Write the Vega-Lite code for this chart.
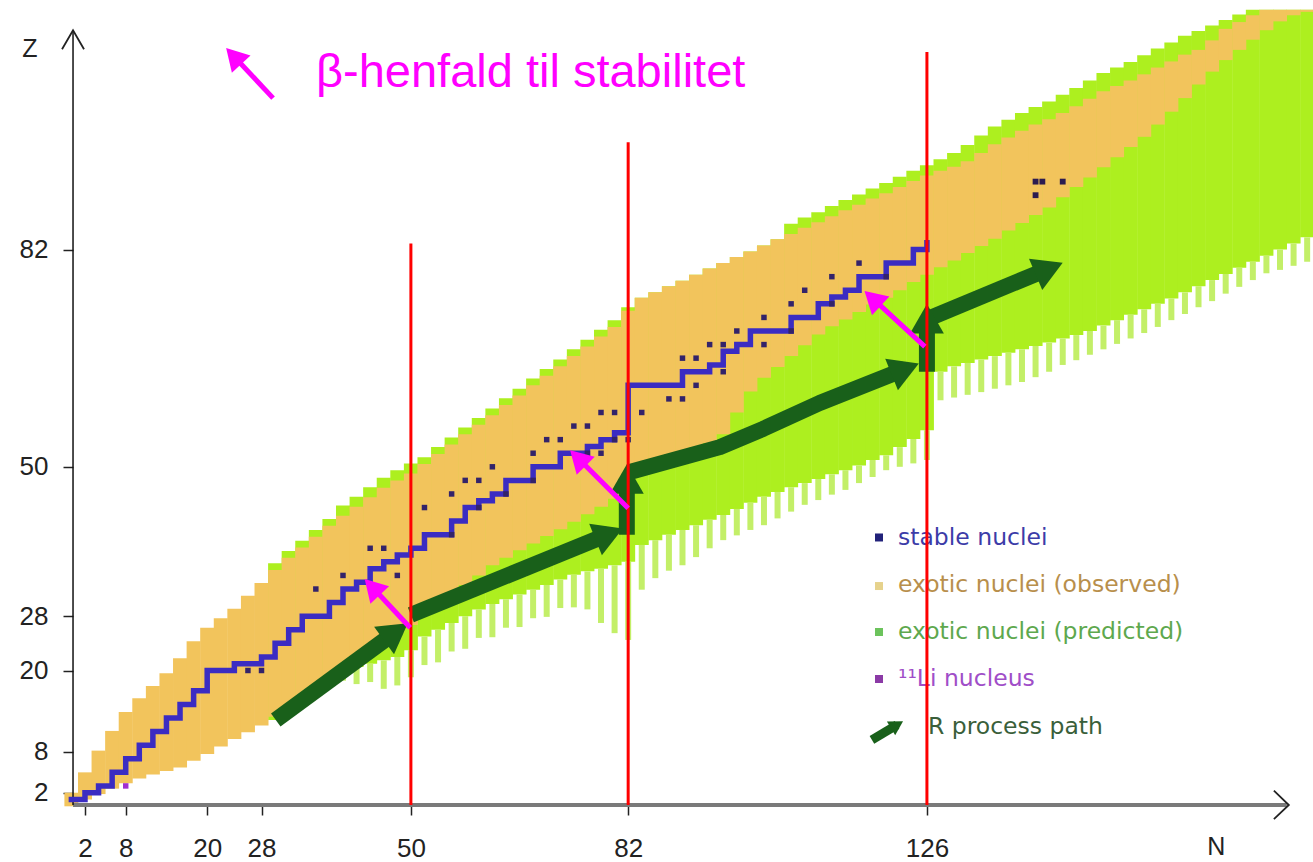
{
"$schema":"https://vega.github.io/schema/vega-lite/v6.json",
"width":1313,"height":862,"padding":0,
"autosize":{"type":"none"},
"background":"white",
"config":{"view":{"stroke":null}},
"resolve":{"scale":{"color":"independent"}},
"datasets":{
"orange":[
{"N":0,"Z":0,"Z2":2},{"N":2,"Z":1.0,"Z2":5.0},{"N":4,"Z":1.8,"Z2":8.2},{"N":6,"Z":2.6,"Z2":11.1},{"N":8,"Z":3.4,"Z2":13.9},{"N":10,"Z":4.1,"Z2":15.9},{"N":12,"Z":4.7,"Z2":17.7},{"N":14,"Z":5.2,"Z2":19.6},{"N":16,"Z":5.7,"Z2":21.8},{"N":18,"Z":6.7,"Z2":24.3},{"N":20,"Z":7.7,"Z2":26.3},{"N":22,"Z":8.8,"Z2":27.7},{"N":24,"Z":9.9,"Z2":29.1},{"N":26,"Z":10.9,"Z2":31.0},{"N":28,"Z":11.9,"Z2":32.9},{"N":30,"Z":13.2,"Z2":34.8},{"N":32,"Z":14.6,"Z2":36.6},{"N":34,"Z":16.1,"Z2":38.1},{"N":36,"Z":17.5,"Z2":39.7},{"N":38,"Z":19.0,"Z2":41.3},{"N":40,"Z":20.5,"Z2":42.8},{"N":42,"Z":21.9,"Z2":44.1},{"N":44,"Z":23.3,"Z2":45.5},{"N":46,"Z":24.7,"Z2":46.9},{"N":48,"Z":25.6,"Z2":48.0},{"N":50,"Z":26.7,"Z2":49.0},
{"N":52,"Z":28.2,"Z2":50.4},{"N":54,"Z":29.6,"Z2":51.9},{"N":56,"Z":31.1,"Z2":53.3},{"N":58,"Z":32.6,"Z2":54.8},{"N":60,"Z":34.0,"Z2":56.2},{"N":62,"Z":35.5,"Z2":57.6},{"N":64,"Z":36.6,"Z2":59.1},{"N":66,"Z":37.7,"Z2":60.5},{"N":68,"Z":38.7,"Z2":62.0},{"N":70,"Z":39.8,"Z2":63.4},{"N":72,"Z":40.8,"Z2":64.8},{"N":74,"Z":41.9,"Z2":66.3},{"N":76,"Z":43.0,"Z2":67.7},{"N":78,"Z":44.1,"Z2":69.2},{"N":80,"Z":45.3,"Z2":70.6},{"N":82,"Z":47.0,"Z2":73.0},
{"N":84,"Z":50.4,"Z2":74.9},{"N":86,"Z":51.0,"Z2":75.7},{"N":88,"Z":51.7,"Z2":76.6},{"N":90,"Z":52.3,"Z2":77.4},{"N":92,"Z":52.9,"Z2":78.3},{"N":94,"Z":53.5,"Z2":79.2},{"N":96,"Z":54.8,"Z2":80.0},{"N":98,"Z":58.0,"Z2":80.9},{"N":100,"Z":61.1,"Z2":81.7},{"N":102,"Z":63.1,"Z2":82.6},{"N":104,"Z":64.7,"Z2":83.5},{"N":106,"Z":66.3,"Z2":84.3},{"N":108,"Z":67.9,"Z2":85.2},{"N":110,"Z":69.5,"Z2":86.0},{"N":112,"Z":70.7,"Z2":86.9},{"N":114,"Z":71.7,"Z2":87.8},{"N":116,"Z":72.8,"Z2":88.6},{"N":118,"Z":73.9,"Z2":89.5},{"N":120,"Z":74.9,"Z2":90.3},{"N":122,"Z":76.0,"Z2":91.2},{"N":124,"Z":77.2,"Z2":92.1},{"N":126,"Z":78.3,"Z2":92.9},
{"N":128,"Z":79.4,"Z2":93.6},{"N":130,"Z":80.4,"Z2":94.2},{"N":132,"Z":81.5,"Z2":95.0},{"N":134,"Z":82.5,"Z2":96.2},{"N":136,"Z":83.6,"Z2":97.5},{"N":138,"Z":84.8,"Z2":98.5},{"N":140,"Z":85.9,"Z2":99.5},{"N":142,"Z":87.1,"Z2":100.4},{"N":144,"Z":88.2,"Z2":101.2},{"N":146,"Z":89.7,"Z2":102.1},{"N":148,"Z":91.2,"Z2":103.1},{"N":150,"Z":92.6,"Z2":104.2},{"N":152,"Z":94.1,"Z2":105.3},{"N":154,"Z":95.6,"Z2":106.1},{"N":156,"Z":97.1,"Z2":106.9},{"N":158,"Z":98.6,"Z2":107.8},{"N":160,"Z":100.4,"Z2":108.8},{"N":162,"Z":102.3,"Z2":109.7},{"N":164,"Z":104.3,"Z2":110.7},{"N":166,"Z":106.3,"Z2":111.4},{"N":168,"Z":108.2,"Z2":112.8},{"N":170,"Z":109.9,"Z2":114.5},{"N":172,"Z":111.4,"Z2":115.5},{"N":174,"Z":112.9,"Z2":116.5},{"N":176,"Z":114.3,"Z2":117.3},{"N":178,"Z":115.6,"Z2":117.3},{"N":180,"Z":116.5,"Z2":117.3},{"N":182,"Z":117.0,"Z2":117.3}
],
"green":[
{"N":30,"Z":12.7,"Z2":35.8},{"N":32,"Z":14.1,"Z2":37.6},{"N":34,"Z":15.6,"Z2":39.1},{"N":36,"Z":17.0,"Z2":40.7},{"N":38,"Z":18.5,"Z2":42.3},{"N":40,"Z":20.0,"Z2":44.3},{"N":42,"Z":20.5,"Z2":45.6},{"N":44,"Z":21.0,"Z2":47.0},{"N":46,"Z":21.5,"Z2":48.4},{"N":48,"Z":22.0,"Z2":49.5},{"N":50,"Z":23.0,"Z2":50.5},
{"N":52,"Z":25.0,"Z2":51.4},{"N":54,"Z":26.0,"Z2":52.9},{"N":56,"Z":27.0,"Z2":54.3},{"N":58,"Z":28.0,"Z2":55.8},{"N":60,"Z":29.0,"Z2":57.2},{"N":62,"Z":29.8,"Z2":58.6},{"N":64,"Z":30.5,"Z2":60.1},{"N":66,"Z":31.2,"Z2":61.5},{"N":68,"Z":31.9,"Z2":63.0},{"N":70,"Z":32.6,"Z2":64.4},{"N":72,"Z":33.4,"Z2":65.8},{"N":74,"Z":34.1,"Z2":67.3},{"N":76,"Z":34.6,"Z2":68.7},{"N":78,"Z":35.0,"Z2":70.2},{"N":80,"Z":35.5,"Z2":71.6},{"N":82,"Z":36.0,"Z2":73.5},
{"N":84,"Z":38.5,"Z2":74.9},{"N":86,"Z":39.2,"Z2":75.7},{"N":88,"Z":40.0,"Z2":76.6},{"N":90,"Z":40.7,"Z2":77.4},{"N":92,"Z":41.4,"Z2":78.3},{"N":94,"Z":42.2,"Z2":79.2},{"N":96,"Z":42.9,"Z2":80.0},{"N":98,"Z":43.8,"Z2":80.9},{"N":100,"Z":44.7,"Z2":81.7},{"N":102,"Z":45.6,"Z2":82.6},{"N":104,"Z":46.3,"Z2":83.5},{"N":106,"Z":47.0,"Z2":85.8},{"N":108,"Z":47.6,"Z2":86.7},{"N":110,"Z":48.2,"Z2":87.5},{"N":112,"Z":48.9,"Z2":88.4},{"N":114,"Z":49.5,"Z2":89.3},{"N":116,"Z":50.2,"Z2":90.1},{"N":118,"Z":51.0,"Z2":91.0},{"N":120,"Z":51.7,"Z2":91.8},{"N":122,"Z":52.9,"Z2":92.7},{"N":124,"Z":54.1,"Z2":93.6},{"N":126,"Z":55.4,"Z2":94.4},
{"N":128,"Z":64.0,"Z2":95.3},{"N":130,"Z":64.8,"Z2":96.2},{"N":132,"Z":65.3,"Z2":97.4},{"N":134,"Z":65.8,"Z2":98.8},{"N":136,"Z":66.3,"Z2":100.1},{"N":138,"Z":66.8,"Z2":101.1},{"N":140,"Z":67.3,"Z2":102.1},{"N":142,"Z":67.8,"Z2":103.0},{"N":144,"Z":68.3,"Z2":103.8},{"N":146,"Z":68.9,"Z2":104.8},{"N":148,"Z":69.4,"Z2":105.8},{"N":150,"Z":70.0,"Z2":106.9},{"N":152,"Z":70.8,"Z2":108.0},{"N":154,"Z":71.6,"Z2":108.8},{"N":156,"Z":72.4,"Z2":109.6},{"N":158,"Z":73.2,"Z2":110.6},{"N":160,"Z":74.0,"Z2":111.6},{"N":162,"Z":74.8,"Z2":112.5},{"N":164,"Z":75.7,"Z2":113.5},{"N":166,"Z":76.6,"Z2":114.2},{"N":168,"Z":77.5,"Z2":115.0},{"N":170,"Z":78.4,"Z2":115.8},{"N":172,"Z":79.3,"Z2":116.6},{"N":174,"Z":80.2,"Z2":117.3},{"N":176,"Z":81.1,"Z2":117.3},{"N":178,"Z":82.0,"Z2":117.3},{"N":180,"Z":82.9,"Z2":117.3},{"N":182,"Z":83.8,"Z2":117.3}
],
"stripes":[
{"N":36,"Z":16.5,"Z2":17.0},{"N":38,"Z":17.5,"Z2":18.5},{"N":40,"Z":18.5,"Z2":20.0},{"N":42,"Z":18.0,"Z2":20.5},{"N":44,"Z":18.3,"Z2":21.0},{"N":46,"Z":17.3,"Z2":21.5},{"N":48,"Z":17.8,"Z2":22.0},{"N":50,"Z":19.0,"Z2":23.0},{"N":52,"Z":20.8,"Z2":25.0},{"N":54,"Z":21.2,"Z2":26.0},{"N":56,"Z":22.8,"Z2":27.0},{"N":58,"Z":23.2,"Z2":28.0},{"N":60,"Z":24.8,"Z2":29.0},{"N":62,"Z":24.9,"Z2":29.8},{"N":64,"Z":26.3,"Z2":30.5},{"N":66,"Z":26.4,"Z2":31.2},{"N":68,"Z":27.7,"Z2":31.9},{"N":70,"Z":27.9,"Z2":32.6},{"N":72,"Z":29.2,"Z2":33.4},{"N":74,"Z":29.3,"Z2":34.1},{"N":76,"Z":29.0,"Z2":34.6},{"N":78,"Z":27.0,"Z2":35.0},{"N":80,"Z":25.5,"Z2":35.5},{"N":82,"Z":24.5,"Z2":36.0},
{"N":84,"Z":31.9,"Z2":38.5},{"N":86,"Z":33.6,"Z2":39.2},{"N":88,"Z":34.7,"Z2":40.0},{"N":90,"Z":35.5,"Z2":40.7},{"N":92,"Z":36.7,"Z2":41.4},{"N":94,"Z":38.0,"Z2":42.2},{"N":96,"Z":39.2,"Z2":42.9},{"N":98,"Z":39.9,"Z2":43.8},{"N":100,"Z":40.7,"Z2":44.7},{"N":102,"Z":41.4,"Z2":45.6},{"N":104,"Z":42.4,"Z2":46.3},{"N":106,"Z":43.4,"Z2":47.0},{"N":108,"Z":44.4,"Z2":47.6},{"N":110,"Z":45.1,"Z2":48.2},{"N":112,"Z":45.9,"Z2":48.9},{"N":114,"Z":46.6,"Z2":49.5},{"N":116,"Z":47.6,"Z2":50.2},{"N":118,"Z":48.5,"Z2":51.0},{"N":120,"Z":49.5,"Z2":51.7},{"N":122,"Z":50.0,"Z2":52.9},{"N":124,"Z":50.5,"Z2":54.1},{"N":126,"Z":51.0,"Z2":55.4},
{"N":128,"Z":59.8,"Z2":64.0},{"N":130,"Z":60.2,"Z2":64.8},{"N":132,"Z":60.6,"Z2":65.3},{"N":134,"Z":61.0,"Z2":65.8},{"N":136,"Z":61.5,"Z2":66.3},{"N":138,"Z":62.0,"Z2":66.8},{"N":140,"Z":62.5,"Z2":67.3},{"N":142,"Z":63.2,"Z2":67.8},{"N":144,"Z":64.0,"Z2":68.3},{"N":146,"Z":65.0,"Z2":68.9},{"N":148,"Z":65.7,"Z2":69.4},{"N":150,"Z":66.5,"Z2":70.0},{"N":152,"Z":67.3,"Z2":70.8},{"N":154,"Z":68.1,"Z2":71.6},{"N":156,"Z":68.9,"Z2":72.4},{"N":158,"Z":69.7,"Z2":73.2},{"N":160,"Z":70.6,"Z2":74.0},{"N":162,"Z":71.6,"Z2":74.8},{"N":164,"Z":72.5,"Z2":75.7},{"N":166,"Z":73.5,"Z2":76.6},{"N":168,"Z":74.4,"Z2":77.5},{"N":170,"Z":75.5,"Z2":78.4},{"N":172,"Z":76.5,"Z2":79.3},{"N":174,"Z":77.5,"Z2":80.2},{"N":176,"Z":78.5,"Z2":81.1},{"N":178,"Z":79.0,"Z2":82.0},{"N":180,"Z":79.6,"Z2":82.9},{"N":182,"Z":80.2,"Z2":83.8}
],
"stable":[
{"o":1,"N":0,"Z":1},{"o":2,"N":2,"Z":2},{"o":3,"N":4,"Z":3},{"o":4,"N":6,"Z":5},{"o":5,"N":8,"Z":7},{"o":6,"N":10,"Z":9},{"o":7,"N":12,"Z":11},{"o":8,"N":14,"Z":13},{"o":9,"N":16,"Z":15},{"o":10,"N":18,"Z":17},{"o":11,"N":20,"Z":18},{"o":12,"N":20,"Z":20},{"o":13,"N":22,"Z":20},{"o":14,"N":24,"Z":21},{"o":15,"N":28,"Z":22},{"o":16,"N":30,"Z":24},{"o":17,"N":32,"Z":26},{"o":18,"N":34,"Z":28},{"o":19,"N":38,"Z":30},{"o":20,"N":40,"Z":32},{"o":21,"N":42,"Z":33},{"o":22,"N":44,"Z":35},{"o":23,"N":46,"Z":36},{"o":24,"N":48,"Z":37},{"o":25,"N":50,"Z":38},{"o":26,"N":52,"Z":40},{"o":27,"N":56,"Z":42},{"o":28,"N":58,"Z":44},{"o":29,"N":60,"Z":45},{"o":30,"N":62,"Z":46},{"o":31,"N":64,"Z":48},{"o":32,"N":68,"Z":50},{"o":33,"N":72,"Z":52},{"o":34,"N":76,"Z":53},{"o":35,"N":78,"Z":54},{"o":36,"N":80,"Z":55},{"o":37,"N":82,"Z":56},{"o":38,"N":82,"Z":62},{"o":39,"N":88,"Z":62},{"o":40,"N":90,"Z":64},{"o":41,"N":94,"Z":65},{"o":42,"N":96,"Z":67},{"o":43,"N":98,"Z":68},{"o":44,"N":100,"Z":70},{"o":45,"N":104,"Z":70},{"o":46,"N":106,"Z":72},{"o":47,"N":108,"Z":72},{"o":48,"N":110,"Z":74},{"o":49,"N":112,"Z":75},{"o":50,"N":114,"Z":76},{"o":51,"N":116,"Z":78},{"o":52,"N":118,"Z":78},{"o":53,"N":120,"Z":80},{"o":54,"N":122,"Z":80},{"o":55,"N":124,"Z":82},{"o":56,"N":126,"Z":82},{"o":57,"N":126,"Z":83}
],
"dots":[
{"N":26,"Z":20},{"N":28,"Z":20},{"N":36,"Z":32},{"N":40,"Z":34},{"N":44,"Z":38},{"N":46,"Z":38},{"N":48,"Z":34},{"N":52,"Z":44},{"N":56,"Z":40},{"N":60,"Z":44},{"N":56,"Z":46},{"N":58,"Z":48},{"N":60,"Z":48},{"N":62,"Z":50},{"N":64,"Z":46},{"N":68,"Z":48},{"N":68,"Z":52},{"N":70,"Z":54},{"N":72,"Z":54},{"N":74,"Z":56},{"N":76,"Z":56},{"N":76,"Z":52},{"N":78,"Z":52},{"N":80,"Z":54},{"N":82,"Z":54},{"N":78,"Z":58},{"N":80,"Z":58},{"N":84,"Z":58},{"N":88,"Z":60},{"N":90,"Z":60},{"N":92,"Z":62},{"N":90,"Z":66},{"N":92,"Z":66},{"N":96,"Z":64},{"N":94,"Z":68},{"N":96,"Z":68},{"N":98,"Z":70},{"N":102,"Z":72},{"N":102,"Z":68},{"N":106,"Z":70},{"N":106,"Z":74},{"N":108,"Z":76},{"N":112,"Z":78},{"N":112,"Z":74},{"N":116,"Z":80},{"N":120,"Z":78}
],
"heavy":[{"N":142,"Z":92},{"N":143,"Z":92},{"N":146,"Z":92},{"N":142,"Z":90}],
"li":[{"N":8,"Z":3}],
"legm":[{"N":118.94,"Z":39.59,"t":"s"},{"N":118.94,"Z":32.44,"t":"o"},{"N":118.94,"Z":25.67,"t":"p"},{"N":118.94,"Z":18.75,"t":"l"}],
"legt":[{"N":121.74,"Z":39.5,"t":"stable nuclei"},{"N":121.74,"Z":32.6,"t":"exotic nuclei (observed)"},{"N":121.74,"Z":25.67,"t":"exotic nuclei (predicted)"},{"N":121.74,"Z":18.75,"t":"¹¹Li nucleus"},{"N":126.15,"Z":11.68,"t":"R process path"}],
"rproc":[
{"g":1,"o":1,"N":30.1,"Z":12.7},{"g":1,"o":2,"N":47.8,"Z":25.7},
{"g":2,"o":1,"N":50.0,"Z":28.2},{"g":2,"o":2,"N":79.2,"Z":40.1},
{"g":3,"o":1,"N":81.8,"Z":40.0},{"g":3,"o":2,"N":81.8,"Z":48.2},
{"g":4,"o":1,"N":82.1,"Z":49.2},{"g":4,"o":2,"N":95.5,"Z":52.9},{"g":4,"o":3,"N":101.9,"Z":55.6},{"g":4,"o":4,"N":110.2,"Z":59.4},{"g":4,"o":5,"N":122.8,"Z":64.4},
{"g":5,"o":1,"N":126.0,"Z":64.0},{"g":5,"o":2,"N":126.0,"Z":71.8},
{"g":6,"o":1,"N":126.4,"Z":71.9},{"g":6,"o":2,"N":144.0,"Z":79.2}
],
"rhead":[{"N":47.8,"Z":25.7,"a":54},{"N":79.2,"Z":40.1,"a":68},{"N":81.8,"Z":48.2,"a":0},{"N":122.8,"Z":64.4,"a":68},{"N":126.0,"Z":71.8,"a":0},{"N":144.0,"Z":79.2,"a":67}],
"licon":[{"o":1,"N":117.9,"Z":9.8},{"o":2,"N":121.6,"Z":12.0}],
"lhead":[{"N":121.6,"Z":12.0,"a":59}],
"red":[{"N":50,"Z":0.19,"Z2":82.9},{"N":82,"Z":0.19,"Z2":97.8},{"N":126,"Z":0.19,"Z2":111.1}],
"beta":[
{"g":1,"o":1,"N":49.9,"Z":26.3},{"g":1,"o":2,"N":44.3,"Z":32.3},
{"g":2,"o":1,"N":82.0,"Z":43.9},{"g":2,"o":2,"N":74.6,"Z":51.3},
{"g":3,"o":1,"N":125.7,"Z":67.7},{"g":3,"o":2,"N":118.0,"Z":74.8},
{"g":4,"o":1,"N":29.7,"Z":104.3},{"g":4,"o":2,"N":23.9,"Z":110.5}
],
"bhead":[{"N":44.3,"Z":32.3,"a":-43},{"N":74.6,"Z":51.3,"a":-45},{"N":118.0,"Z":74.8,"a":-47},{"N":23.9,"Z":110.5,"a":-43}],
"xaxis":[{"N":0.24,"N2":179.0,"Z":0.19}],
"yaxis":[{"N":0.24,"Z":0.19,"Z2":114.3}],
"chev":[
{"g":1,"o":1,"N":-1.38,"Z":111.5},{"g":1,"o":2,"N":0.24,"Z":114.3},{"g":1,"o":3,"N":1.86,"Z":111.5},
{"g":2,"o":1,"N":177.1,"Z":2.3},{"g":2,"o":2,"N":179.3,"Z":0.19},{"g":2,"o":3,"N":177.1,"Z":-1.9}
],
"names":[{"N":-6.1,"Z":111.6,"t":"Z"},{"N":168.6,"Z":-6.0,"t":"N"}],
"title":[{"N":36.02,"Z":105.89,"t":"β-henfald til stabilitet"}]
},
"encoding":{
"x":{"field":"N","type":"quantitative","scale":{"domain":[-10.515,182.86],"nice":false,"zero":false,"padding":0},
"axis":{"orient":"bottom","offset":-57,"values":[2,8,20,28,50,82,126],"domain":false,"grid":false,"tickSize":10,"tickColor":"#222","tickWidth":1.5,"labelFont":"Liberation Sans","labelFontSize":26,"labelColor":"#222","labelPadding":20,"title":null,"labelOverlap":false,"labelFlush":false}},
"y":{"field":"Z","type":"quantitative","stack":null,"scale":{"domain":[-8.203,118.748],"nice":false,"zero":false,"padding":0},
"axis":{"orient":"left","offset":-73,"values":[2,8,20,28,50,82],"domain":false,"grid":false,"tickSize":10,"tickColor":"#222","tickWidth":1.5,"labelFont":"Liberation Sans","labelFontSize":26,"labelColor":"#222","labelPadding":15,"title":null,"labelOverlap":false,"labelFlush":false}}
},
"layer":[
{"data":{"name":"green"},"mark":{"type":"bar","width":14,"color":"#adef1f"},"encoding":{"y2":{"field":"Z2"}}},
{"data":{"name":"stripes"},"mark":{"type":"bar","width":6,"color":"#c3ef68"},"encoding":{"y2":{"field":"Z2"}}},
{"data":{"name":"orange"},"mark":{"type":"bar","width":14,"color":"#f2c45c"},"encoding":{"y2":{"field":"Z2"}}},
{"data":{"name":"xaxis"},"mark":{"type":"rule","color":"#7a7a7a","strokeWidth":4},"encoding":{"x2":{"field":"N2"}}},
{"data":{"name":"yaxis"},"mark":{"type":"rule","color":"#111111","strokeWidth":1.5},"encoding":{"y2":{"field":"Z2"}}},
{"data":{"name":"chev"},"mark":{"type":"line","color":"#222222","strokeWidth":1.8},"encoding":{"detail":{"field":"g"},"order":{"field":"o"}}},
{"data":{"name":"stable"},"mark":{"type":"line","interpolate":"step-after","color":"#3b2cc2","strokeWidth":5.5,"strokeCap":"square"},"encoding":{"order":{"field":"o"}}},
{"data":{"name":"dots"},"mark":{"type":"point","shape":"square","filled":true,"size":30,"color":"#33236a","opacity":1}},
{"data":{"name":"heavy"},"mark":{"type":"point","shape":"square","filled":true,"size":34,"color":"#2c1c50","opacity":1}},
{"data":{"name":"li"},"mark":{"type":"point","shape":"square","filled":true,"size":30,"color":"#a030d0","opacity":1}},
{"data":{"name":"legm"},"mark":{"type":"point","shape":"square","filled":true,"size":64,"opacity":1},"encoding":{"color":{"field":"t","type":"nominal","scale":{"domain":["s","o","p","l"],"range":["#22227a","#e6d28c","#6cc35c","#8b3aa6"]},"legend":null}}},
{"data":{"name":"legt"},"mark":{"type":"text","align":"left","baseline":"middle","font":"DejaVu Sans","fontSize":23.5},"encoding":{"text":{"field":"t"},"color":{"field":"t","type":"nominal","scale":{"domain":["stable nuclei","exotic nuclei (observed)","exotic nuclei (predicted)","¹¹Li nucleus","R process path"],"range":["#3c3ca8","#b88f4c","#5ea84e","#a04ec8","#3a5f3a"]},"legend":null}}},
{"data":{"name":"rproc"},"mark":{"type":"line","color":"#19601a","strokeWidth":16,"strokeCap":"butt","strokeJoin":"round"},"encoding":{"detail":{"field":"g"},"order":{"field":"o"}}},
{"data":{"name":"rhead"},"mark":{"type":"point","shape":"triangle-up","filled":true,"size":1150,"color":"#19601a","opacity":1,"strokeWidth":0},"encoding":{"angle":{"field":"a","type":"quantitative","scale":null}}},
{"data":{"name":"licon"},"mark":{"type":"line","color":"#19601a","strokeWidth":9,"strokeCap":"butt"},"encoding":{"order":{"field":"o"}}},
{"data":{"name":"lhead"},"mark":{"type":"point","shape":"triangle-up","filled":true,"size":260,"color":"#19601a","opacity":1,"strokeWidth":0},"encoding":{"angle":{"field":"a","type":"quantitative","scale":null}}},
{"data":{"name":"red"},"mark":{"type":"rule","color":"#ff0000","strokeWidth":3},"encoding":{"y2":{"field":"Z2"}}},
{"data":{"name":"beta"},"mark":{"type":"line","color":"#ff00ff","strokeWidth":5,"strokeCap":"butt"},"encoding":{"detail":{"field":"g"},"order":{"field":"o"}}},
{"data":{"name":"bhead"},"mark":{"type":"point","shape":"triangle-up","filled":true,"size":650,"color":"#ff00ff","opacity":1,"strokeWidth":0},"encoding":{"angle":{"field":"a","type":"quantitative","scale":null}}},
{"data":{"name":"names"},"mark":{"type":"text","align":"center","baseline":"middle","font":"Liberation Sans","fontSize":25,"color":"#222222"},"encoding":{"text":{"field":"t"}}},
{"data":{"name":"title"},"mark":{"type":"text","align":"left","baseline":"alphabetic","font":"Liberation Sans","fontSize":47,"color":"#ff00ff"},"encoding":{"text":{"field":"t"}}}
]
}
